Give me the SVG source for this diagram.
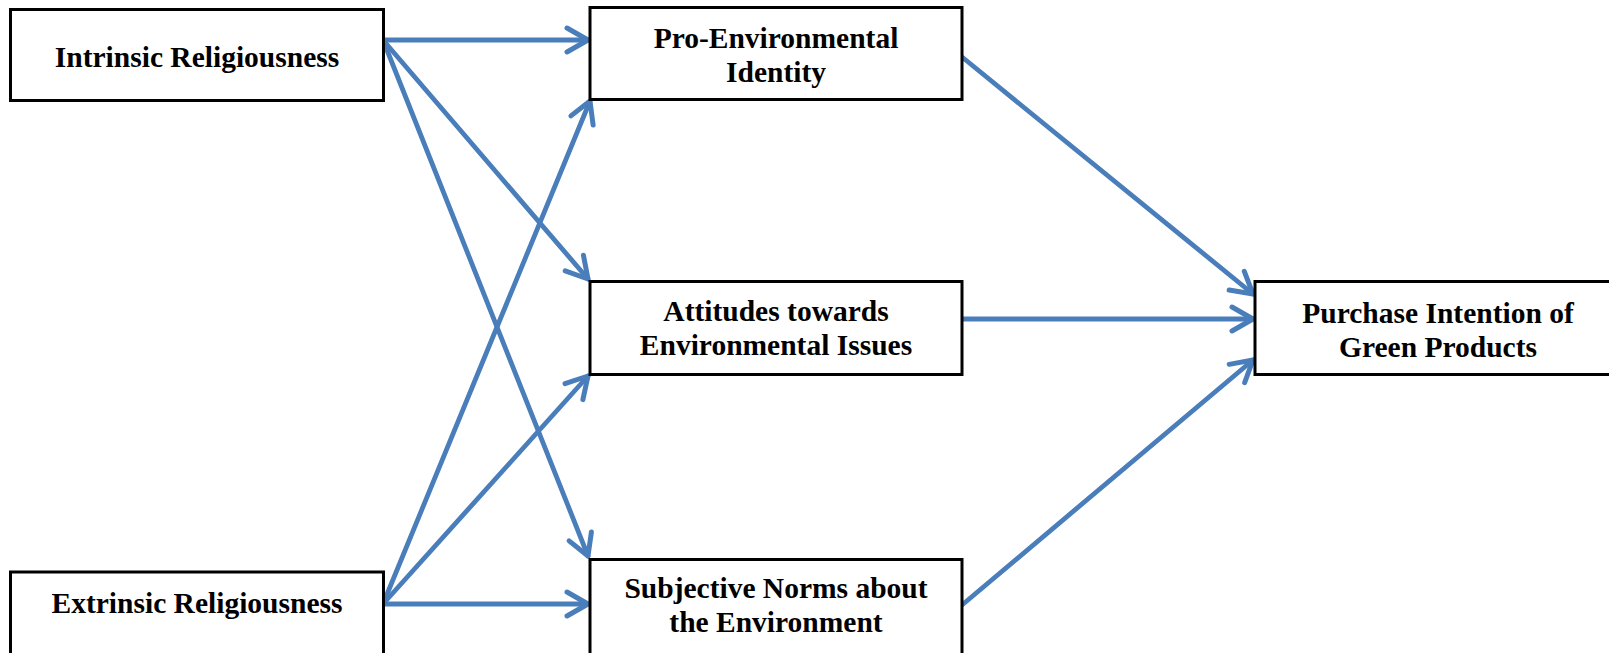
<svg xmlns="http://www.w3.org/2000/svg" width="1609" height="653" viewBox="0 0 1609 653">
<style>
.box{fill:#fff;stroke:#000;stroke-width:3}
.lbl{font-family:"Liberation Serif","Times New Roman",serif;font-weight:bold;font-size:29.5px;fill:#000;text-anchor:middle;dominant-baseline:central}
.con{stroke:#4a7ebb;stroke-width:4.8;fill:none;stroke-linecap:round;marker-end:url(#arr)}
</style>
<defs>
<marker id="arr" markerUnits="userSpaceOnUse" viewBox="-28 -16 32 32" refX="0" refY="0" markerWidth="32" markerHeight="32" orient="auto" overflow="visible">
<path d="M-21,-12 L0,0 L-21,12" fill="none" stroke="#4a7ebb" stroke-width="5" stroke-linecap="round" stroke-linejoin="round"/>
</marker>
</defs>
<g id="connectors">
<line class="con" x1="383" y1="40" x2="588" y2="40"/>
<line class="con" x1="383" y1="40" x2="588" y2="279"/>
<line class="con" x1="383" y1="40" x2="588" y2="556"/>
<line class="con" x1="383" y1="604" x2="590" y2="101"/>
<line class="con" x1="383" y1="604" x2="588" y2="376"/>
<line class="con" x1="383" y1="604" x2="588" y2="604"/>
<line class="con" x1="962" y1="57" x2="1253" y2="294"/>
<line class="con" x1="962" y1="319" x2="1253" y2="319"/>
<line class="con" x1="962" y1="605" x2="1253" y2="360"/>
</g>
<g id="intrinsic">
<rect class="box" x="10.5" y="9.5" width="373" height="91"/>
<text class="lbl" x="197" y="57">Intrinsic Religiousness</text>
</g>
<g id="extrinsic">
<rect class="box" x="10.5" y="572" width="373" height="110"/>
<text class="lbl" x="197" y="603">Extrinsic Religiousness</text>
</g>
<g id="identity">
<rect class="box" x="590" y="7.5" width="372" height="92"/>
<text class="lbl" x="776" y="38">Pro-Environmental</text>
<text class="lbl" x="776" y="72">Identity</text>
</g>
<g id="attitudes">
<rect class="box" x="590" y="281.5" width="372" height="93"/>
<text class="lbl" x="776" y="311">Attitudes towards</text>
<text class="lbl" x="776" y="345">Environmental Issues</text>
</g>
<g id="norms">
<rect class="box" x="590" y="559.5" width="372" height="110"/>
<text class="lbl" x="776" y="588">Subjective Norms about</text>
<text class="lbl" x="776" y="622">the Environment</text>
</g>
<g id="purchase">
<rect class="box" x="1255" y="281.5" width="370" height="93"/>
<text class="lbl" x="1438" y="313">Purchase Intention of</text>
<text class="lbl" x="1438" y="347">Green Products</text>
</g>
</svg>
